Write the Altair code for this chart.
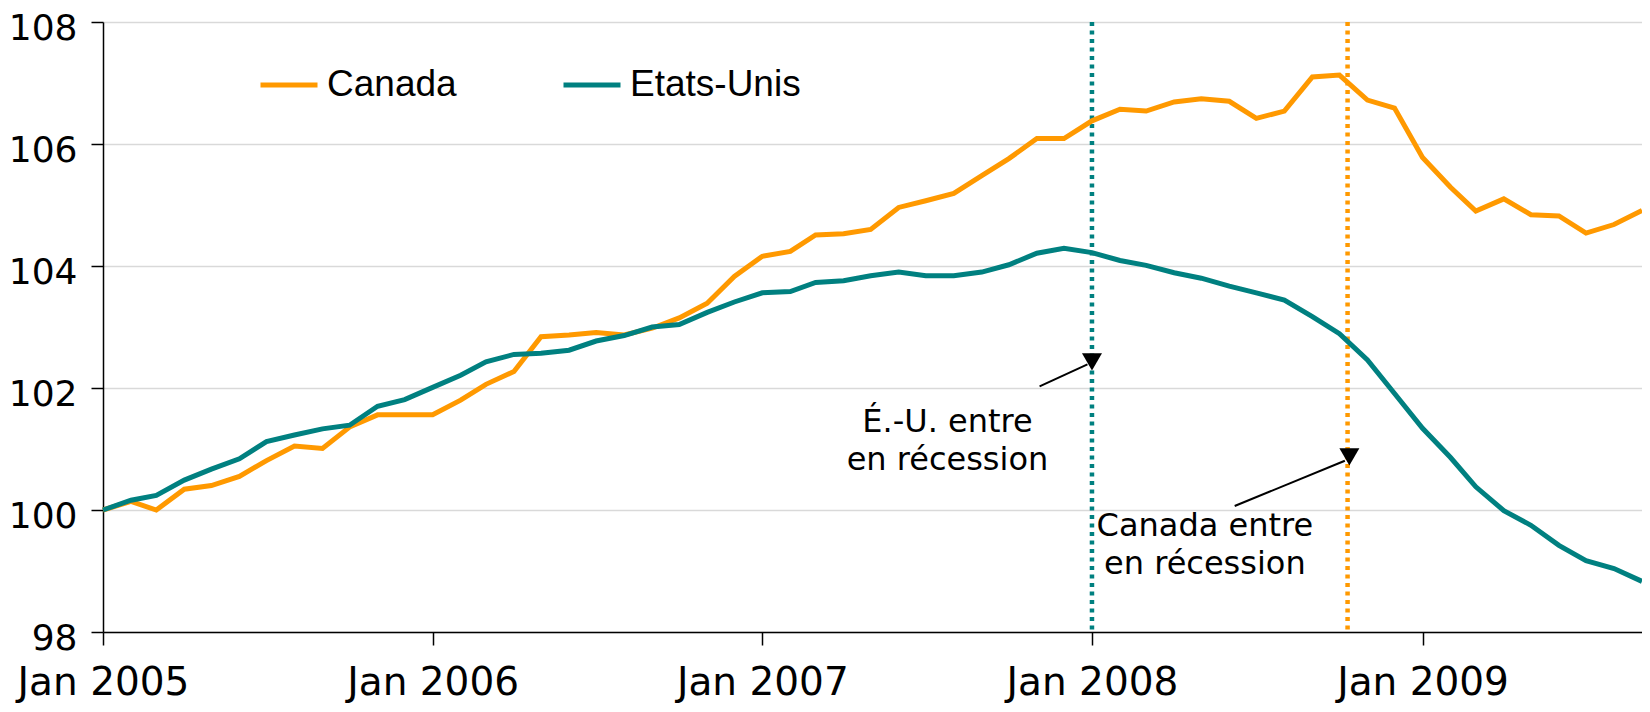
import altair as alt
import pandas as pd

# ---------------- data ----------------
years = [2005, 2006, 2007, 2008, 2009]
months = [f"{y}-{m:02d}-01" for y in years for m in range(1, 13)][:57]

canada = [
    100.00, 100.14, 100.00, 100.34, 100.40, 100.55, 100.81, 101.05, 101.01, 101.36, 101.56, 101.56,
    101.56, 101.80, 102.06, 102.27, 102.84, 102.87, 102.91, 102.87, 102.98, 103.15, 103.39, 103.83,
    104.16, 104.24, 104.51, 104.53, 104.60, 104.96, 105.07, 105.19, 105.48, 105.76, 106.09, 106.09,
    106.38, 106.57, 106.54, 106.69, 106.74, 106.70, 106.42, 106.54, 107.10, 107.13, 106.72, 106.59,
    105.78, 105.29, 104.90, 105.10, 104.84, 104.82, 104.54, 104.68, 104.91,
]
etats_unis = [
    100.00, 100.16, 100.24, 100.49, 100.67, 100.84, 101.12, 101.23, 101.33, 101.39, 101.70, 101.81,
    102.01, 102.21, 102.43, 102.55, 102.57, 102.62, 102.77, 102.86, 103.00, 103.04, 103.24, 103.41,
    103.56, 103.58, 103.73, 103.76, 103.84, 103.90, 103.84, 103.84, 103.90, 104.02, 104.21, 104.29,
    104.22, 104.09, 104.01, 103.89, 103.80, 103.67, 103.56, 103.44, 103.17, 102.89, 102.46, 101.91,
    101.34, 100.86, 100.38, 99.99, 99.75, 99.42, 99.17, 99.04, 98.83,
]
series_names = ["Canada", "Etats-Unis"]
series_colors = ["#FF9900", "#008080"]
y_ticks = [98, 100, 102, 104, 106, 108]

recession_dates = ["2008-01-01", "2008-10-10"]
recession_colors = ["#008080", "#FF9900"]

note_text = [["É.-U. entre", "en récession"], ["Canada entre", "en récession"]]
note_x = ["2007-07-25", "2008-05-05"]
note_y = [101.285, 99.567]
arrow_x = ["2007-11-04", "2008-06-07"]
arrow_y = [102.026, 100.065]
arrow_x2 = ["2007-12-27", "2008-10-07"]
arrow_y2 = [102.387, 100.807]
head_x = ["2008-01-01", "2008-10-12"]
head_y = [102.428, 100.872]

# ---------------- tables ----------------
df = pd.DataFrame({
    "date": months * 2,
    "value": canada + etats_unis,
    "serie": [series_names[0]] * len(canada) + [series_names[1]] * len(etats_unis),
})
notes = pd.DataFrame({"x": note_x, "y": note_y, "t": note_text})
arrows = pd.DataFrame({"x": arrow_x, "y": arrow_y, "x2": arrow_x2, "y2": arrow_y2})
heads = pd.DataFrame({"x": head_x, "y": head_y})

FONT = "DejaVu Sans"

x_scale = alt.Scale(
    type="utc", padding=0,
    domain=[alt.DateTime(year=2005, month=1, date=1, utc=True),
            alt.DateTime(year=2009, month=9, date=1, utc=True)],
)
y_scale = alt.Scale(domain=[98, 108], nice=False, zero=False, padding=0)

x_axis = alt.Axis(
    values=[alt.DateTime(year=y, month=1, date=1, utc=True) for y in years],
    format="%b %Y", title=None, grid=False,
    domainColor="black", domainWidth=1.5, tickColor="black", tickSize=13, tickWidth=1.5,
    labelFont=FONT, labelFontSize=39, labelColor="black", labelPadding=18,
    labelFlush=False, labelOverlap=False,
)
y_axis = alt.Axis(
    values=y_ticks, format="d", title=None, grid=True, gridColor="#D9D9D9", gridWidth=1.5,
    domainColor="black", domainWidth=1.5, tickColor="black", tickSize=12, tickWidth=1.5,
    labelFont=FONT, labelFontSize=36, labelColor="black", labelPadding=14, labelOffset=6,
)

color = alt.Color(
    "serie:N",
    scale=alt.Scale(domain=series_names, range=series_colors),
    legend=alt.Legend(
        title=None, orient="none", legendX=155, legendY=32, direction="horizontal",
        symbolType="stroke", symbolSize=3249, symbolStrokeWidth=5,
        labelFont="Liberation Sans", labelFontSize=37, labelColor="black",
        labelOffset=7, columnPadding=96, padding=0, labelLimit=0,
    ),
)

base = alt.Chart(df).encode(
    x=alt.X("date:T", scale=x_scale, axis=x_axis),
    y=alt.Y("value:Q", scale=y_scale, axis=y_axis),
    color=color,
)

line_ca = base.transform_filter(alt.datum.serie == series_names[0]).mark_line(strokeWidth=5)
line_us = base.transform_filter(alt.datum.serie == series_names[1]).mark_line(strokeWidth=5)

rules = []
for d, c in zip(recession_dates, recession_colors):
    rules.append(
        alt.Chart(pd.DataFrame({"date": [d]}))
        .mark_rule(color=c, strokeWidth=4.5, strokeDash=[4, 4.5])
        .encode(x="date:T")
    )

arrow_lines = alt.Chart(arrows).mark_rule(color="black", strokeWidth=2).encode(
    x="x:T", y="y:Q", x2="x2:T", y2="y2:Q"
)
arrow_heads = alt.Chart(heads).mark_point(
    shape="triangle-down", filled=True, size=400, color="black", opacity=1
).encode(x="x:T", y="y:Q")

texts = alt.Chart(notes).mark_text(
    font=FONT, fontSize=32, color="black", align="center", baseline="alphabetic", lineHeight=38
).encode(x="x:T", y="y:Q", text="t")

chart = alt.layer(
    *rules, line_ca, line_us, arrow_lines, arrow_heads, texts
).properties(
    width=1539, height=610,
    autosize=alt.AutoSizeParams(type="none"),
    padding={"left": 95, "top": 14, "right": 0, "bottom": 72},
    background="white",
).configure_view(stroke=None)

chart.save("out.html", embed_options={"renderer": "svg", "actions": False})
